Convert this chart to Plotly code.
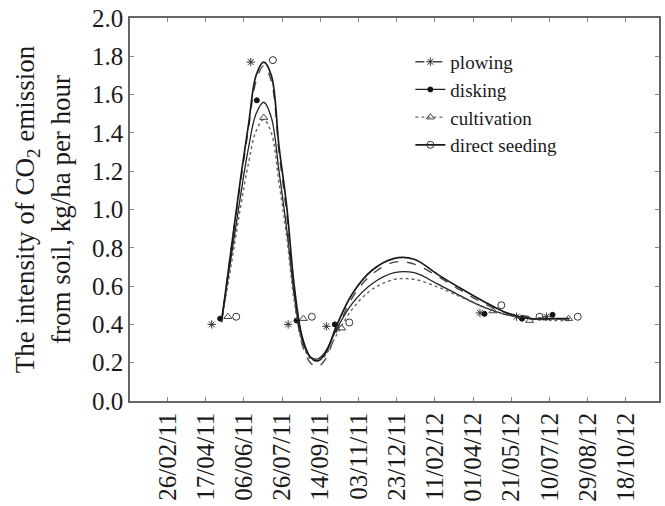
import plotly.graph_objects as go

# ---------------- data ----------------
TICK_DATES = ["2011-02-26", "2011-04-17", "2011-06-06", "2011-07-26", "2011-09-14",
              "2011-11-03", "2011-12-23", "2012-02-11", "2012-04-01", "2012-05-21",
              "2012-07-10", "2012-08-29", "2012-10-18"]
TICK_LABELS = ["26/02/11", "17/04/11", "06/06/11", "26/07/11", "14/09/11",
               "03/11/11", "23/12/11", "11/02/12", "01/04/12", "21/05/12",
               "10/07/12", "29/08/12", "18/10/12"]

SERIES = ["plowing", "disking", "cultivation", "direct seeding"]

# measured points
plowing_dates = ["2011-04-25", "2011-06-15", "2011-08-03", "2011-09-22", "2012-04-10", "2012-05-28", "2012-07-06"]
plowing_vals = [0.40, 1.77, 0.40, 0.39, 0.46, 0.44, 0.44]
disking_dates = ["2011-05-06", "2011-06-23", "2011-08-14", "2011-10-03", "2012-04-16", "2012-06-04", "2012-07-14"]
disking_vals = [0.43, 1.57, 0.42, 0.40, 0.455, 0.43, 0.45]
cultivation_dates = ["2011-05-16", "2011-07-02", "2011-08-23", "2011-10-12", "2012-04-27", "2012-06-14", "2012-08-04"]
cultivation_vals = [0.44, 1.48, 0.43, 0.38, 0.47, 0.42, 0.43]
direct_dates = ["2011-05-27", "2011-07-14", "2011-09-03", "2011-10-22", "2012-05-08", "2012-06-27", "2012-08-16"]
direct_vals = [0.44, 1.78, 0.44, 0.41, 0.50, 0.44, 0.44]

# fitted curves
curve_dates = ["2011-05-08", "2011-05-20", "2011-06-02", "2011-06-12", "2011-06-22", "2011-07-02",
               "2011-07-12", "2011-07-22", "2011-08-01", "2011-08-11", "2011-08-21", "2011-09-01",
               "2011-09-11", "2011-09-21", "2011-10-06", "2011-10-26", "2011-11-20", "2011-12-20",
               "2012-01-15", "2012-02-15", "2012-03-15", "2012-04-15", "2012-05-15", "2012-06-15",
               "2012-07-15", "2012-08-05"]
plowing_curve = [0.41, 0.78, 1.15, 1.42, 1.67, 1.75, 1.67, 1.30, 0.98, 0.56, 0.30, 0.20,
                 0.18, 0.22, 0.37, 0.54, 0.66, 0.725, 0.715, 0.65, 0.58, 0.51, 0.46, 0.44, 0.43, 0.43]
disking_curve = [0.43, 0.74, 1.08, 1.32, 1.50, 1.56, 1.48, 1.20, 0.90, 0.55, 0.32, 0.23,
                 0.22, 0.26, 0.38, 0.51, 0.61, 0.67, 0.67, 0.61, 0.55, 0.49, 0.45, 0.43, 0.43, 0.43]
cultivation_curve = [0.42, 0.70, 1.02, 1.24, 1.41, 1.47, 1.40, 1.14, 0.86, 0.52, 0.31, 0.22,
                     0.21, 0.24, 0.35, 0.48, 0.58, 0.635, 0.635, 0.595, 0.545, 0.49, 0.45, 0.43, 0.42, 0.42]
direct_curve = [0.42, 0.78, 1.17, 1.44, 1.70, 1.77, 1.70, 1.33, 1.02, 0.60, 0.34, 0.23,
                0.21, 0.25, 0.40, 0.56, 0.68, 0.745, 0.74, 0.66, 0.59, 0.52, 0.46, 0.43, 0.43, 0.43]

Y_TICKS = [0.0, 0.2, 0.4, 0.6, 0.8, 1.0, 1.2, 1.4, 1.6, 1.8, 2.0]

# ---------------- styles ----------------
FONT = "Liberation Serif"
styles = {
    "plowing": dict(dash="dash", color="#444444", width=1.4, symbol="asterisk-open", msize=7, mcolor="#333333"),
    "disking": dict(dash="solid", color="#222222", width=1.3, symbol="circle", msize=5, mcolor="#111111"),
    "cultivation": dict(dash="dot", color="#666666", width=1.4, symbol="triangle-up-open", msize=7, mcolor="#444444"),
    "direct seeding": dict(dash="solid", color="#1a1a1a", width=1.7, symbol="circle-open", msize=7, mcolor="#333333"),
}
points = {
    "plowing": (plowing_dates, plowing_vals, plowing_curve),
    "disking": (disking_dates, disking_vals, disking_curve),
    "cultivation": (cultivation_dates, cultivation_vals, cultivation_curve),
    "direct seeding": (direct_dates, direct_vals, direct_curve),
}

fig = go.Figure()
for name in SERIES:
    d, v, c = points[name]
    s = styles[name]
    fig.add_trace(go.Scatter(
        x=curve_dates, y=c, mode="lines", line=dict(shape="spline", smoothing=1.0,
        dash=s["dash"], color=s["color"], width=s["width"]), showlegend=False, hoverinfo="skip"))
    # markers (interleaved with gaps so no connecting line is drawn, but legend shows line+marker)
    xs, ys = [], []
    for xi, yi in zip(d, v):
        xs += [xi, xi]
        ys += [yi, None]
    fig.add_trace(go.Scatter(
        x=xs, y=ys, mode="lines+markers", name=name, connectgaps=False,
        line=dict(dash=s["dash"], color=s["color"], width=s["width"]),
        marker=dict(symbol=s["symbol"], size=s["msize"], color=s["mcolor"],
                    line=dict(width=1, color=s["mcolor"]))))

axis_common = dict(showline=True, linecolor="#666666", linewidth=1.5, mirror="ticks",
                   ticks="inside", ticklen=4, tickcolor="#888888", tickwidth=1,
                   showgrid=False, zeroline=False, automargin=False, ticklabeloverflow="allow",
                   tickfont=dict(family=FONT, size=25, color="#1a1a1a"))

fig.update_xaxes(type="date", range=["2011-01-08", "2012-11-30 08:00"],
                 tickvals=TICK_DATES, ticktext=TICK_LABELS, tickangle=-90, **axis_common)
fig.update_yaxes(range=[0, 2.0], tickvals=Y_TICKS, tickformat=".1f",
                 title=dict(text="The intensity of CO<sub>2</sub> emission<br>from soil, kg/ha per hour",
                            font=dict(family=FONT, size=27, color="#1a1a1a"), standoff=14),
                 **axis_common)

fig.update_layout(
    width=665, height=506,
    margin=dict(l=130, r=6, t=18, b=105),
    paper_bgcolor="white", plot_bgcolor="white",
    font=dict(family=FONT, color="#1a1a1a"),
    legend=dict(x=0.53, y=0.935, xanchor="left", yanchor="top",
                bgcolor="rgba(0,0,0,0)", font=dict(family=FONT, size=19, color="#1a1a1a"),
                tracegroupgap=0, itemwidth=30),
)

# remove the default page margin so the figure fills the 665x506 window exactly
fig.write_html("out.html", config={"displayModeBar": False},
               post_script="document.body.style.margin='0';")
